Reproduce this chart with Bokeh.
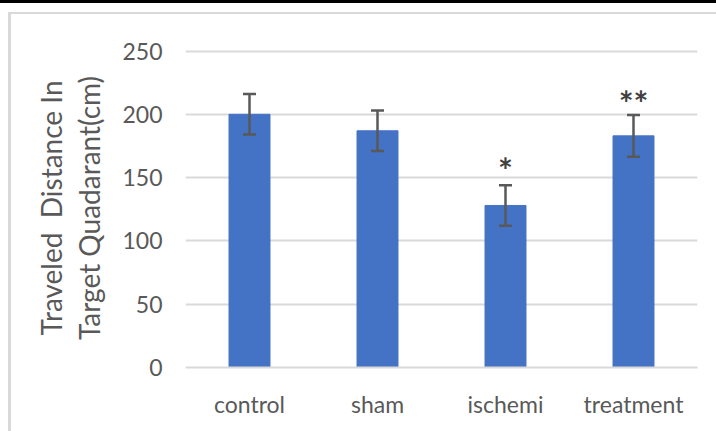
from bokeh.plotting import figure
from bokeh.models import ColumnDataSource, Whisker, TeeHead, FixedTicker
from bokeh.embed import file_html
from bokeh.resources import INLINE
from bokeh.core.properties import value

groups = ["control", "sham", "ischemi", "treatment"]
means = [200, 187, 128, 183]
errors = [16, 16, 16, 16.5]
star_groups = ["ischemi", "treatment"]
star_labels = ["*", "**"]
star_y = [157, 210]
y_ticks = [0, 50, 100, 150, 200, 250]
y_label = "Traveled\u00a0 Distance In\nTarget Quadarant(cm)"

upper = [m + e for m, e in zip(means, errors)]
lower = [m - e for m, e in zip(means, errors)]
src = ColumnDataSource(dict(x=groups, top=means, upper=upper, lower=lower))
star_src = ColumnDataSource(dict(x=star_groups, y=star_y, t=star_labels))

FONT = "Lato"
GRAY = "#595959"

p = figure(x_range=groups, y_range=(0, 252), width=716, height=431,
           output_backend="svg", toolbar_location=None,
           min_border_left=185, min_border_right=19,
           min_border_top=48, min_border_bottom=64)

p.vbar(x="x", top="top", width=0.32, source=src, color="#4472c4")

head_kw = dict(size=13, line_color=GRAY, line_width=2.5)
w = Whisker(base="x", upper="upper", lower="lower", source=src,
            line_color=GRAY, line_width=2.5,
            upper_head=TeeHead(**head_kw), lower_head=TeeHead(**head_kw))
w.level = "overlay"
p.add_layout(w)

p.text(x="x", y="y", text="t", source=star_src, text_align="center",
       text_baseline="middle", text_font=value(FONT), text_font_size="35px",
       text_font_style="bold", text_color="#404040")

p.xgrid.grid_line_color = None
p.ygrid.grid_line_color = "#d9d9d9"
p.ygrid.grid_line_width = 2
p.yaxis.ticker = FixedTicker(ticks=y_ticks)

p.outline_line_color = None
p.background_fill_color = "white"
p.border_fill_color = None

for ax in (p.xaxis, p.yaxis):
    ax.major_tick_line_color = None
    ax.minor_tick_line_color = None
    ax.major_tick_out = 0
    ax.major_tick_in = 0
    ax.minor_tick_out = 0
    ax.major_label_text_font = FONT
    ax.major_label_text_font_size = "23px"
    ax.major_label_text_color = GRAY

p.yaxis.axis_line_color = None
p.yaxis.major_label_standoff = 23
p.xaxis.axis_line_color = "#d9d9d9"
p.xaxis.axis_line_width = 2
p.xaxis.major_label_standoff = 22

p.yaxis.axis_label = y_label
p.yaxis.axis_label_text_font = FONT
p.yaxis.axis_label_text_font_size = "28px"
p.yaxis.axis_label_text_font_style = "normal"
p.yaxis.axis_label_text_color = GRAY
p.yaxis.axis_label_text_line_height = 1.12
p.yaxis.axis_label_standoff = 13

p.styles = {
    "background": ("linear-gradient(#000,#000) 0 0 / 100% 3px no-repeat, "
                   "linear-gradient(#d9d9d9,#d9d9d9) 8px 12px / 100% 2px no-repeat, "
                   "linear-gradient(#d9d9d9,#d9d9d9) 8px 12px / 3px 100% no-repeat, white"),
}

open("out.html", "w").write(file_html(p, INLINE))
